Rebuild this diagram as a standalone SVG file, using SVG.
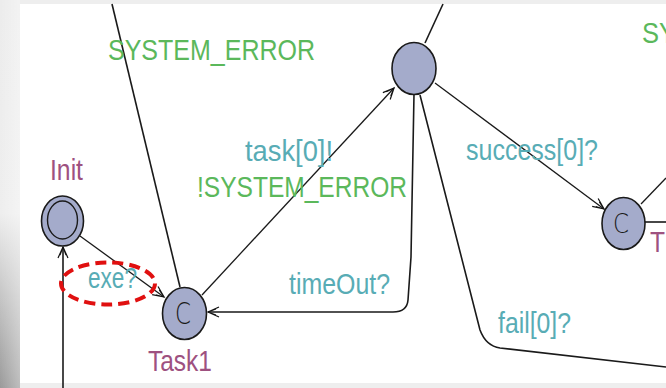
<svg xmlns="http://www.w3.org/2000/svg" width="666" height="388" viewBox="0 0 666 388">
<defs>
<linearGradient id="leftShade" x1="0" y1="0" x2="0" y2="1">
<stop offset="0" stop-color="#ececec"/>
<stop offset="0.55" stop-color="#eeeeee"/>
<stop offset="0.75" stop-color="#c8c8c8"/>
<stop offset="1" stop-color="#9a9a9a"/>
</linearGradient>
<linearGradient id="leftFade" x1="0" y1="0" x2="1" y2="0">
<stop offset="0" stop-color="#ffffff" stop-opacity="0"/>
<stop offset="1" stop-color="#ffffff" stop-opacity="0.35"/>
</linearGradient>
<marker id="arr" markerUnits="userSpaceOnUse" markerWidth="14" markerHeight="14" refX="12" refY="6" orient="auto">
<path d="M1,1 L12,6 L1,11 M4,3 L12,6 L4,9" fill="none" stroke="#111" stroke-width="1.2"/>
</marker>
</defs>
<style>
.loc{fill:#a4abcb;stroke:#1a1a1a;stroke-width:1.6}
.edge{fill:none;stroke:#1a1a1a;stroke-width:1.6}
.thin{fill:none;stroke:#1a1a1a;stroke-width:1.3}
text{font-family:"Liberation Sans",Arial,sans-serif;font-size:30px}
.guard{fill:#5bb85b}
.sync{fill:#58acb5}
.name{fill:#9e5180}
.cm{fill:#1a1a1a;text-anchor:middle;font-family:"DejaVu Sans","Liberation Sans",sans-serif;font-weight:200}
</style>
<rect x="0" y="0" width="666" height="388" fill="#eeeeee"/>
<rect x="0" y="0" width="20" height="388" fill="url(#leftShade)"/>
<rect x="0" y="0" width="20" height="388" fill="url(#leftFade)"/>
<rect x="20" y="4" width="646" height="379" fill="#ffffff"/>

<g id="connectors">
<line class="edge" x1="112" y1="4" x2="180" y2="287"/>
<line class="thin" x1="202" y1="295" x2="394" y2="88" marker-end="url(#arr)"/>
<path class="edge" d="M414,94 L411,257 L408,300 Q407,312 393,312 L208,312" marker-end="url(#arr)"/>
<line class="edge" x1="425" y1="43" x2="443" y2="4"/>
<line class="thin" x1="435" y1="83" x2="604" y2="209" marker-end="url(#arr)"/>
<line class="thin" x1="641" y1="204" x2="666" y2="178"/>
<line class="edge" x1="645" y1="222" x2="666" y2="222"/>
<path class="edge" d="M420,95 L480,330 Q486,346 500,348 L666,367"/>
<line class="thin" x1="80" y1="236" x2="164" y2="297" marker-end="url(#arr)"/>
<line class="edge" x1="63" y1="388" x2="63" y2="247" marker-end="url(#arr)"/>
</g>

<g id="node-init">
<ellipse class="loc" cx="62.5" cy="221" rx="21" ry="25"/>
<ellipse fill="none" stroke="#1a1a1a" stroke-width="1.4" cx="62.5" cy="220" rx="15" ry="19"/>
<text class="name" x="50" y="180" textLength="33" lengthAdjust="spacingAndGlyphs">Init</text>
</g>

<g id="node-task1">
<ellipse class="loc" cx="184.5" cy="313.5" rx="22" ry="26"/>
<text class="cm" x="183" y="324" textLength="16" lengthAdjust="spacingAndGlyphs" style="font-size:30px">C</text>
<text class="name" x="148" y="371" textLength="64" lengthAdjust="spacingAndGlyphs">Task1</text>
</g>

<g id="node-top">
<ellipse class="loc" cx="414" cy="68.5" rx="22" ry="26"/>
</g>

<g id="node-right">
<ellipse class="loc" cx="623.5" cy="223.5" rx="21.5" ry="26"/>
<text class="cm" x="621" y="233" textLength="16" lengthAdjust="spacingAndGlyphs" style="font-size:26px">C</text>
<text class="name" x="650" y="252" textLength="15" lengthAdjust="spacingAndGlyphs">T</text>
</g>

<g id="labels">
<text class="guard" x="108" y="60" textLength="207" lengthAdjust="spacingAndGlyphs">SYSTEM_ERROR</text>
<text class="guard" x="642" y="43" textLength="34" lengthAdjust="spacingAndGlyphs">SY</text>
<text class="sync" x="245" y="161" textLength="88" lengthAdjust="spacingAndGlyphs">task[0]!</text>
<text class="guard" x="197" y="197" textLength="210" lengthAdjust="spacingAndGlyphs">!SYSTEM_ERROR</text>
<text class="sync" x="466" y="160" textLength="132" lengthAdjust="spacingAndGlyphs">success[0]?</text>
<text class="sync" x="88" y="288" textLength="49" lengthAdjust="spacingAndGlyphs">exe?</text>
<text class="sync" x="289" y="294" textLength="101" lengthAdjust="spacingAndGlyphs">timeOut?</text>
<text class="sync" x="498" y="333" textLength="73" lengthAdjust="spacingAndGlyphs">fail[0]?</text>
</g>

<ellipse id="highlight" cx="108" cy="283.5" rx="47" ry="21" fill="none" stroke="#e01010" stroke-width="4" stroke-dasharray="11,6"/>
</svg>
